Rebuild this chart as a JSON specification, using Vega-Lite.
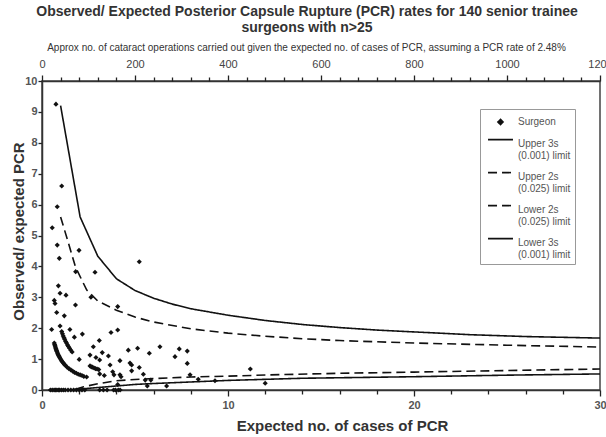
{
  "$schema": "https://vega.github.io/schema/vega-lite/v6.json",
  "width": 558,
  "height": 309,
  "autosize": {"type": "none"},
  "padding": {"left": 42, "top": 81, "right": 6, "bottom": 47},
  "background": "white",
  "config": {
    "font": "Liberation Sans",
    "view": {"stroke": "#444", "strokeWidth": 1.5},
    "axis": {"labelFont": "Liberation Sans", "titleFont": "Liberation Sans", "grid": false, "domainColor": "#333", "domainWidth": 1.5, "tickColor": "#222", "tickWidth": 1.3, "labelOverlap": false, "labelFlush": false, "tickCount": 50}
  },
  "title": {
    "text": ["Observed/ Expected Posterior Capsule Rupture (PCR) rates for 140 senior trainee", "surgeons with n>25"],
    "fontSize": 14,
    "fontWeight": "bold",
    "color": "#333",
    "anchor": "middle",
    "dx": -14,
    "lineHeight": 16,
    "offset": 7
  },
  "datasets": {
    "lines": [
      {"series": "Upper 3s|(0.001) limit", "E": 1, "R": 9.2},
      {"series": "Upper 3s|(0.001) limit", "E": 2.05, "R": 5.6},
      {"series": "Upper 3s|(0.001) limit", "E": 3, "R": 4.33},
      {"series": "Upper 3s|(0.001) limit", "E": 4, "R": 3.6},
      {"series": "Upper 3s|(0.001) limit", "E": 5, "R": 3.22},
      {"series": "Upper 3s|(0.001) limit", "E": 6, "R": 2.97},
      {"series": "Upper 3s|(0.001) limit", "E": 7, "R": 2.78},
      {"series": "Upper 3s|(0.001) limit", "E": 8, "R": 2.63},
      {"series": "Upper 3s|(0.001) limit", "E": 10, "R": 2.42},
      {"series": "Upper 3s|(0.001) limit", "E": 12, "R": 2.25},
      {"series": "Upper 3s|(0.001) limit", "E": 14, "R": 2.12},
      {"series": "Upper 3s|(0.001) limit", "E": 16, "R": 2.02},
      {"series": "Upper 3s|(0.001) limit", "E": 18, "R": 1.94},
      {"series": "Upper 3s|(0.001) limit", "E": 20, "R": 1.88},
      {"series": "Upper 3s|(0.001) limit", "E": 23, "R": 1.79},
      {"series": "Upper 3s|(0.001) limit", "E": 26, "R": 1.73},
      {"series": "Upper 3s|(0.001) limit", "E": 30, "R": 1.68},
      {"series": "Upper 2s|(0.025) limit", "E": 1, "R": 5.6},
      {"series": "Upper 2s|(0.025) limit", "E": 1.4, "R": 4.8},
      {"series": "Upper 2s|(0.025) limit", "E": 1.8, "R": 3.98},
      {"series": "Upper 2s|(0.025) limit", "E": 2.4, "R": 3.24},
      {"series": "Upper 2s|(0.025) limit", "E": 3, "R": 2.88},
      {"series": "Upper 2s|(0.025) limit", "E": 4, "R": 2.58},
      {"series": "Upper 2s|(0.025) limit", "E": 5, "R": 2.36},
      {"series": "Upper 2s|(0.025) limit", "E": 6, "R": 2.2},
      {"series": "Upper 2s|(0.025) limit", "E": 8, "R": 1.98},
      {"series": "Upper 2s|(0.025) limit", "E": 10, "R": 1.84},
      {"series": "Upper 2s|(0.025) limit", "E": 12, "R": 1.74},
      {"series": "Upper 2s|(0.025) limit", "E": 14, "R": 1.66},
      {"series": "Upper 2s|(0.025) limit", "E": 16, "R": 1.6},
      {"series": "Upper 2s|(0.025) limit", "E": 20, "R": 1.52},
      {"series": "Upper 2s|(0.025) limit", "E": 25, "R": 1.45},
      {"series": "Upper 2s|(0.025) limit", "E": 30, "R": 1.39},
      {"series": "Lower 2s|(0.025) limit", "E": 1.8, "R": 0.02},
      {"series": "Lower 2s|(0.025) limit", "E": 2.2, "R": 0.1},
      {"series": "Lower 2s|(0.025) limit", "E": 3, "R": 0.2},
      {"series": "Lower 2s|(0.025) limit", "E": 4, "R": 0.3},
      {"series": "Lower 2s|(0.025) limit", "E": 5, "R": 0.34},
      {"series": "Lower 2s|(0.025) limit", "E": 6, "R": 0.37},
      {"series": "Lower 2s|(0.025) limit", "E": 8, "R": 0.42},
      {"series": "Lower 2s|(0.025) limit", "E": 10, "R": 0.45},
      {"series": "Lower 2s|(0.025) limit", "E": 13, "R": 0.5},
      {"series": "Lower 2s|(0.025) limit", "E": 16, "R": 0.54},
      {"series": "Lower 2s|(0.025) limit", "E": 20, "R": 0.58},
      {"series": "Lower 2s|(0.025) limit", "E": 25, "R": 0.63},
      {"series": "Lower 2s|(0.025) limit", "E": 30, "R": 0.68},
      {"series": "Lower 3s|(0.001) limit", "E": 1.5, "R": 0},
      {"series": "Lower 3s|(0.001) limit", "E": 3, "R": 0.08},
      {"series": "Lower 3s|(0.001) limit", "E": 4, "R": 0.13},
      {"series": "Lower 3s|(0.001) limit", "E": 5, "R": 0.18},
      {"series": "Lower 3s|(0.001) limit", "E": 6, "R": 0.21},
      {"series": "Lower 3s|(0.001) limit", "E": 8, "R": 0.26},
      {"series": "Lower 3s|(0.001) limit", "E": 10, "R": 0.31},
      {"series": "Lower 3s|(0.001) limit", "E": 14, "R": 0.38},
      {"series": "Lower 3s|(0.001) limit", "E": 20, "R": 0.43},
      {"series": "Lower 3s|(0.001) limit", "E": 25, "R": 0.48},
      {"series": "Lower 3s|(0.001) limit", "E": 30, "R": 0.52}
    ],
    "points": [
      {"E": 0.75, "R": 9.25}, {"E": 1.06, "R": 6.6}, {"E": 0.82, "R": 5.93}, {"E": 0.55, "R": 5.25},
      {"E": 0.82, "R": 4.69}, {"E": 0.93, "R": 4.26}, {"E": 1.99, "R": 4.52}, {"E": 1.81, "R": 3.83},
      {"E": 2.85, "R": 3.81}, {"E": 5.23, "R": 4.15}, {"E": 0.88, "R": 3.37}, {"E": 0.97, "R": 3.13},
      {"E": 1.29, "R": 3.07}, {"E": 0.66, "R": 2.9}, {"E": 0.7, "R": 2.8}, {"E": 1.8, "R": 2.75},
      {"E": 2.63, "R": 3.0}, {"E": 4.07, "R": 2.7}, {"E": 0.79, "R": 2.51}, {"E": 1.2, "R": 2.4},
      {"E": 0.52, "R": 1.96}, {"E": 0.97, "R": 2.07}, {"E": 1.5, "R": 1.96}, {"E": 1.74, "R": 1.71},
      {"E": 2.17, "R": 1.81}, {"E": 3.71, "R": 1.86}, {"E": 4.07, "R": 1.94}, {"E": 3.08, "R": 1.6},
      {"E": 2.76, "R": 1.4}, {"E": 3.24, "R": 1.21}, {"E": 3.57, "R": 1.1}, {"E": 4.64, "R": 1.29},
      {"E": 5.14, "R": 1.35}, {"E": 2.58, "R": 1.13}, {"E": 2.9, "R": 1.05}, {"E": 3.1, "R": 0.97},
      {"E": 2.0, "R": 0.99}, {"E": 4.19, "R": 0.95}, {"E": 3.66, "R": 0.81}, {"E": 4.82, "R": 0.81},
      {"E": 4.82, "R": 0.62}, {"E": 3.8, "R": 0.59}, {"E": 3.87, "R": 0.49}, {"E": 4.19, "R": 0.49},
      {"E": 4.25, "R": 0.43}, {"E": 5.77, "R": 1.19}, {"E": 6.34, "R": 1.4}, {"E": 7.15, "R": 1.08},
      {"E": 7.38, "R": 1.33}, {"E": 7.81, "R": 1.26}, {"E": 7.81, "R": 0.86}, {"E": 7.96, "R": 0.49},
      {"E": 5.23, "R": 0.73}, {"E": 5.45, "R": 0.51}, {"E": 5.55, "R": 0.32}, {"E": 5.85, "R": 0.32},
      {"E": 5.66, "R": 0.13}, {"E": 6.7, "R": 0.13}, {"E": 8.4, "R": 0.35}, {"E": 9.3, "R": 0.3},
      {"E": 11.2, "R": 0.68}, {"E": 12.0, "R": 0.22}, {"E": 4.73, "R": 0.87}, {"E": 4.07, "R": 0.18},
      {"E": 3.1, "R": 0.52}, {"E": 3.35, "R": 0.47},
      {"E": 0.45, "R": 0}, {"E": 0.55, "R": 0}, {"E": 0.65, "R": 0}, {"E": 0.72, "R": 0},
      {"E": 0.8, "R": 0}, {"E": 0.88, "R": 0}, {"E": 0.95, "R": 0}, {"E": 1.05, "R": 0},
      {"E": 1.15, "R": 0}, {"E": 1.25, "R": 0}, {"E": 1.4, "R": 0}, {"E": 1.55, "R": 0},
      {"E": 1.7, "R": 0}, {"E": 1.85, "R": 0}, {"E": 2.0, "R": 0}, {"E": 2.15, "R": 0},
      {"E": 2.3, "R": 0}, {"E": 3.1, "R": 0}, {"E": 3.3, "R": 0}, {"E": 3.5, "R": 0},
      {"E": 3.85, "R": 0}, {"E": 3.95, "R": 0}, {"E": 4.1, "R": 0}, {"E": 4.2, "R": 0},
      {"E": 0.66, "R": 1.52}, {"E": 0.68, "R": 1.47}, {"E": 0.7, "R": 1.43}, {"E": 0.72, "R": 1.39},
      {"E": 0.74, "R": 1.35}, {"E": 0.76, "R": 1.32}, {"E": 0.78, "R": 1.28}, {"E": 0.8, "R": 1.25},
      {"E": 0.83, "R": 1.2}, {"E": 0.86, "R": 1.16}, {"E": 0.89, "R": 1.12}, {"E": 0.92, "R": 1.09},
      {"E": 0.95, "R": 1.05}, {"E": 0.98, "R": 1.02}, {"E": 1.02, "R": 0.98}, {"E": 1.06, "R": 0.94},
      {"E": 1.1, "R": 0.91}, {"E": 1.15, "R": 0.87}, {"E": 1.2, "R": 0.83}, {"E": 1.25, "R": 0.8},
      {"E": 1.35, "R": 0.74}, {"E": 1.45, "R": 0.69}, {"E": 1.55, "R": 0.65}, {"E": 1.65, "R": 0.61},
      {"E": 1.75, "R": 0.57}, {"E": 1.85, "R": 0.54}, {"E": 1.95, "R": 0.51}, {"E": 2.05, "R": 0.49},
      {"E": 2.15, "R": 0.47}, {"E": 2.25, "R": 0.44}, {"E": 2.4, "R": 0.42},
      {"E": 1.06, "R": 1.89}, {"E": 1.1, "R": 1.82}, {"E": 1.14, "R": 1.75}, {"E": 1.18, "R": 1.69},
      {"E": 1.22, "R": 1.64}, {"E": 1.27, "R": 1.57}, {"E": 1.32, "R": 1.52}, {"E": 1.37, "R": 1.46},
      {"E": 1.42, "R": 1.41}, {"E": 1.48, "R": 1.35}, {"E": 1.55, "R": 1.29}, {"E": 1.62, "R": 1.23},
      {"E": 2.58, "R": 0.78}, {"E": 2.65, "R": 0.75}, {"E": 2.72, "R": 0.74}, {"E": 2.8, "R": 0.71},
      {"E": 2.88, "R": 0.69}, {"E": 2.96, "R": 0.68}, {"E": 3.05, "R": 0.66}
    ],
    "top": [{"ops": 0}, {"ops": 1200}]
  },
  "layer": [
    {
      "encoding": {
        "x": {
          "field": "E", "type": "quantitative",
          "scale": {"domain": [0, 30], "nice": false},
          "axis": {
            "values": [0, 10, 20, 30],
            "format": "d",
            "tickCount": 50,
            "tickSize": 6,
            "labelFontSize": 11,
            "labelFontWeight": "bold",
            "labelColor": "#555",
            "labelPadding": 3,
            "title": "Expected no. of cases of PCR",
            "titleFontSize": 15,
            "titleFontWeight": "bold",
            "titleColor": "#333",
            "titlePadding": 8,
            "titleX": 300
          }
        },
        "y": {
          "field": "R", "type": "quantitative",
          "scale": {"domain": [0, 10], "nice": false},
          "axis": {
            "values": [0, 1, 2, 3, 4, 5, 6, 7, 8, 9, 10],
            "format": "d",
            "tickCount": 50,
            "labelOverlap": false,
            "tickSize": 4,
            "labelFontSize": 11,
            "labelFontWeight": "bold",
            "labelColor": "#555",
            "labelPadding": 1,
            "title": "Observed/ expected PCR",
            "titleFontSize": 15,
            "titleFontWeight": "bold",
            "titleColor": "#333",
            "titlePadding": -2,
            "titleY": 150
          }
        }
      },
      "layer": [
        {
          "data": {"name": "lines"},
          "mark": {"type": "line", "color": "#111", "strokeWidth": 1.6},
          "encoding": {
            "strokeDash": {
              "field": "series", "type": "nominal",
              "scale": {
                "domain": ["Surgeon", "Upper 3s|(0.001) limit", "Upper 2s|(0.025) limit", "Lower 2s|(0.025) limit", "Lower 3s|(0.001) limit"],
                "range": [[1, 0], [1, 0], [9, 5], [9, 5], [1, 0]]
              },
              "legend": {
                "title": null, "orient": "none", "legendX": 438, "legendY": 28,
                "labelExpr": "split(datum.label, '|')",
                "strokeColor": "#999", "fillColor": "white", "padding": 4,
                "symbolSize": 256, "symbolOffset": 7.5, "symbolStrokeColor": "#111", "symbolFillColor": "#111", "symbolStrokeWidth": 1.6,
                "labelFontSize": 10, "labelColor": "#555", "labelLimit": 200, "rowPadding": 7, "labelOffset": 8.5,
                "encode": {"symbols": {"update": {"stroke": {"value": "#111"}, "fill": {"value": "#111"}, "strokeWidth": {"value": 1.6}, "opacity": {"value": 1}}}}
              }
            }
          }
        },
        {
          "data": {"name": "points"},
          "mark": {"type": "point", "filled": true, "color": "#111", "size": 256, "opacity": 1},
          "encoding": {
            "shape": {
              "datum": "Surgeon", "type": "nominal",
              "scale": {
                "domain": ["Surgeon", "Upper 3s|(0.001) limit", "Upper 2s|(0.025) limit", "Lower 2s|(0.025) limit", "Lower 3s|(0.001) limit"],
                "range": ["M0,-0.32L0.32,0L0,0.32L-0.32,0Z", "M-1.56,-0.55H1.56", "M-1.56,-0.55H1.56", "M-1.56,-0.55H1.56", "M-1.56,-0.55H1.56"]
              },
              "legend": {
                "title": null, "orient": "none", "legendX": 438, "legendY": 28,
                "labelExpr": "split(datum.label, '|')",
                "strokeColor": "#999", "fillColor": "white", "padding": 4,
                "symbolSize": 256, "symbolOffset": 7.5, "symbolStrokeColor": "#111", "symbolFillColor": "#111", "symbolStrokeWidth": 1.6,
                "labelFontSize": 10, "labelColor": "#555", "labelLimit": 200, "rowPadding": 7, "labelOffset": 8.5,
                "encode": {"symbols": {"update": {"stroke": {"value": "#111"}, "fill": {"value": "#111"}, "strokeWidth": {"value": 1.6}, "opacity": {"value": 1}}}}
              }
            }
          }
        }
      ]
    },
    {
      "data": {"name": "top"},
      "mark": {"type": "point", "opacity": 0},
      "encoding": {
        "x": {
          "field": "ops", "type": "quantitative",
          "scale": {"domain": [0, 1200], "nice": false},
          "axis": {
            "orient": "top",
            "format": "d",
            "values": [0, 200, 400, 600, 800, 1000, 1200],
            "tickCount": 50,
            "tickSize": 6,
            "labelFontSize": 11,
            "labelColor": "#444",
            "labelPadding": 6,
            "title": "Approx no. of cataract operations carried out given the expected no. of cases of PCR, assuming a PCR rate of 2.48%",
            "titleFontSize": 10,
            "titleFontWeight": "normal",
            "titleColor": "#333",
            "titlePadding": 6,
            "titleX": 264
          }
        }
      }
    },
    {
      "data": {"name": "top"},
      "mark": {"type": "point", "opacity": 0},
      "encoding": {
        "x": {
          "field": "ops", "type": "quantitative",
          "scale": {"domain": [0, 1200], "nice": false},
          "axis": {
            "orient": "top",
            "values": [40, 80, 120, 160, 240, 280, 320, 360, 440, 480, 520, 560, 640, 680, 720, 760, 840, 880, 920, 960, 1040, 1080, 1120, 1160],
            "tickCount": 50,
            "tickSize": 4,
            "labels": false,
            "domain": false,
            "title": null
          }
        }
      }
    },
    {
      "data": {"name": "top"},
      "mark": {"type": "point", "opacity": 0},
      "encoding": {
        "x": {
          "field": "ops", "type": "quantitative",
          "scale": {"domain": [0, 1200], "nice": false},
          "axis": {
            "orient": "bottom",
            "values": [80, 160, 240, 320, 480, 560, 640, 720, 880, 960, 1040, 1120],
            "tickCount": 50,
            "tickSize": 4,
            "labels": false,
            "domain": false,
            "title": null
          }
        }
      }
    }
  ],
  "resolve": {"scale": {"x": "independent"}}
}
